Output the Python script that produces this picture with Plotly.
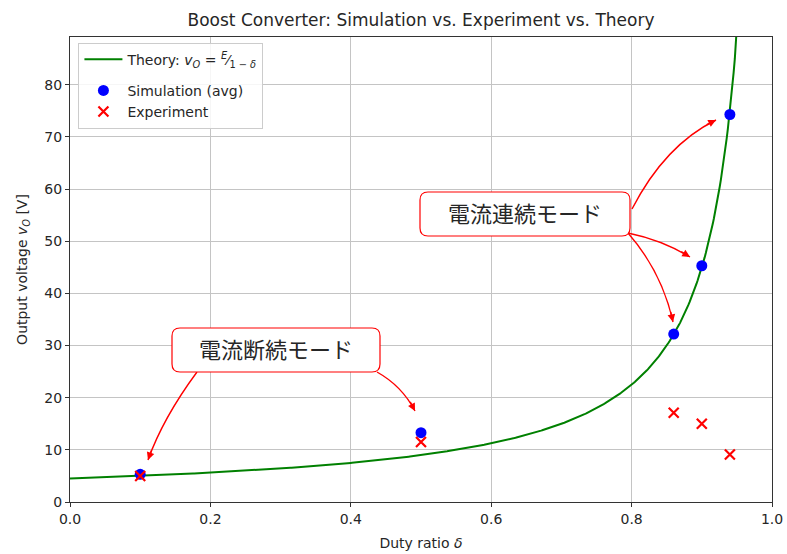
import numpy as np
import plotly.graph_objects as go

# Measured / simulated output voltages of the boost converter
duty = [0.10, 0.50, 0.86, 0.90, 0.94]
v_sim = [5.3, 13.3, 32.2, 45.3, 74.3]
v_exp = [5.0, 11.5, 17.1, 15.0, 9.1]
E_in = 4.5  # input voltage [V] for the ideal curve

x_ticks = [0.0, 0.2, 0.4, 0.6, 0.8, 1.0]
y_ticks = [0, 10, 20, 30, 40, 50, 60, 70, 80]

# Ideal continuous-mode relation v_O = E / (1 - delta)
d_theory = np.linspace(0.0, 0.99, 600)
v_theory = E_in / (1.0 - d_theory)

W, H = 787, 554
ML, MR, MT, MB = 70, 15, 37, 52
Y_MAX = 1.2 * max(v_sim)
PW, PH = W - ML - MR, H - MT - MB

FONT = "DejaVu Sans"
JP_FONT = "DejaVu Sans, Noto Sans CJK JP"
TXT = "#262626"


def px2data(px, py):
    return (px - ML) / PW, (H - MB - py) / PH * Y_MAX


fig = go.Figure()
fig.add_trace(go.Scatter(
    x=d_theory, y=v_theory, mode="lines",
    line=dict(color="#008000", width=2), legendgroup="theory",
    name="Theory: <i>v<sub>O</sub></i> = <sup><i>E</i></sup>⁄<sub>1 − <i>δ</i></sub>"))
fig.add_trace(go.Scatter(
    x=duty, y=v_sim, mode="markers", legendgroup="data",
    marker=dict(color="#0000ff", size=11, symbol="circle"),
    name="Simulation (avg)"))
fig.add_trace(go.Scatter(
    x=duty, y=v_exp, mode="markers", legendgroup="data",
    marker=dict(color="#ff0000", size=10, symbol="x-thin",
                line=dict(color="#ff0000", width=2.2)),
    name="Experiment"))

shapes = []
annotations = []


def rounded_box(x0, y0, x1, y1, r=8):
    pts = [
        ("M", x0 + r, y0), ("L", x1 - r, y0), ("Q", x1, y0, x1, y0 + r),
        ("L", x1, y1 - r), ("Q", x1, y1, x1 - r, y1), ("L", x0 + r, y1),
        ("Q", x0, y1, x0, y1 - r), ("L", x0, y0 + r), ("Q", x0, y0, x0 + r, y0),
    ]
    parts = []
    for p in pts:
        cmd, coords = p[0], p[1:]
        conv = []
        for i in range(0, len(coords), 2):
            dx, dy = px2data(coords[i], coords[i + 1])
            conv.append(f"{dx:.5f},{dy:.4f}")
        parts.append(cmd + " " + " ".join(conv))
    return " ".join(parts) + " Z"


def curved_arrow(start, ctrl, end):
    sx, sy = px2data(*start)
    cx, cy = px2data(*ctrl)
    ex, ey = px2data(*end)
    shapes.append(dict(
        type="path", xref="x", yref="y", layer="above",
        path=f"M {sx:.5f},{sy:.4f} Q {cx:.5f},{cy:.4f} {ex:.5f},{ey:.4f}",
        line=dict(color="#ff0000", width=1.4)))
    vx, vy = ctrl[0] - end[0], ctrl[1] - end[1]
    n = (vx ** 2 + vy ** 2) ** 0.5
    annotations.append(dict(
        x=ex, y=ey, xref="x", yref="y", text="", showarrow=True,
        ax=vx / n * 12, ay=vy / n * 12, arrowhead=2, arrowsize=1.1,
        arrowwidth=1.4, arrowcolor="#ff0000", standoff=0))


def label_box(x0, y0, x1, y1, text):
    shapes.append(dict(
        type="path", xref="x", yref="y", layer="above",
        path=rounded_box(x0, y0, x1, y1),
        fillcolor="white", line=dict(color="#ff0000", width=1.2)))
    cx, cy = px2data((x0 + x1) / 2, (y0 + y1) / 2)
    annotations.append(dict(
        x=cx, y=cy, xref="x", yref="y", text=text, showarrow=False,
        font=dict(family=JP_FONT, size=22, color=TXT)))


# Discontinuous conduction mode
curved_arrow((197, 372), (163, 418), (148, 460))
curved_arrow((377, 372), (402, 386), (415, 411))
label_box(172, 328, 380, 372, "電流断続モード")

# Continuous conduction mode
curved_arrow((632, 209), (665, 145), (716, 120))
curved_arrow((628, 233), (662, 240), (690, 257))
curved_arrow((628, 233), (662, 272), (673, 322))
label_box(420, 192, 630, 236, "電流連続モード")

axis_common = dict(
    showline=True, linecolor="#333333", linewidth=1, mirror=True,
    ticks="outside", ticklen=4, tickcolor="#333333", tickwidth=1,
    showgrid=True, gridcolor="#c4c4c4", gridwidth=1, zeroline=False,
    automargin=False,
    tickfont=dict(family=FONT, size=14, color=TXT),
)

fig.update_layout(
    width=W, height=H,
    margin=dict(l=ML, r=MR, t=MT, b=MB),
    plot_bgcolor="white", paper_bgcolor="white",
    font=dict(family=FONT, size=14, color=TXT),
    title=dict(text="Boost Converter: Simulation vs. Experiment vs. Theory",
               x=0.5, xref="paper", y=1 - 20 / H, yanchor="middle",
               font=dict(family=FONT, size=17, color=TXT)),
    xaxis=dict(range=[0, 1], tickvals=x_ticks,
               ticktext=[f"{t:.1f}" for t in x_ticks],
               title=dict(text="Duty ratio <i>δ</i>", standoff=12,
                          font=dict(family=FONT, size=14)),
               **axis_common),
    yaxis=dict(range=[0, Y_MAX], tickvals=y_ticks,
               title=dict(text="Output voltage <i>v<sub>O</sub></i> [V]",
                          standoff=13, font=dict(family=FONT, size=14)),
               **axis_common),
    legend=dict(x=0.012, y=0.988, xanchor="left", yanchor="top",
                bgcolor="rgba(255,255,255,0.85)", bordercolor="#cccccc",
                borderwidth=1, font=dict(family=FONT, size=14, color=TXT),
                itemwidth=38, tracegroupgap=10),
    shapes=shapes,
    annotations=annotations,
    showlegend=True,
)

fig.write_html("out.html")
